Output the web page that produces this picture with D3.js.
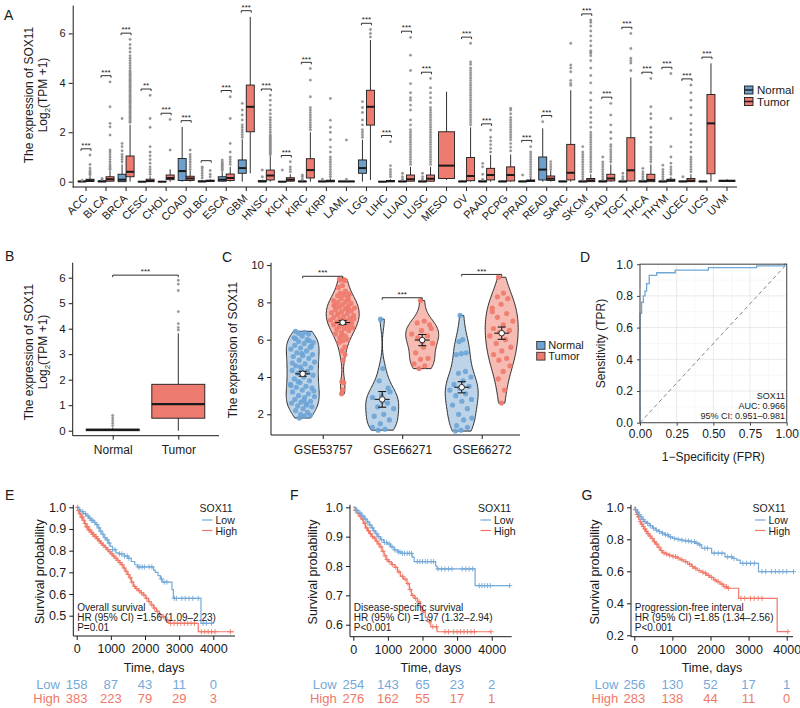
<!DOCTYPE html>
<html><head><meta charset="utf-8">
<script src="https://cdn.jsdelivr.net/npm/d3@7"></script>
<style>body{margin:0;background:#fff}svg text{font-family:"Liberation Sans",Arial,Helvetica,sans-serif;fill:#1a1a1a}</style>
</head><body><svg id="c" width="800" height="708"></svg>
<script>
// ================= DATA =================
// Panel A: TCGA cancers, box stats [lo, q1, median, q3, hi]
const cancers = ["ACC","BLCA","BRCA","CESC","CHOL","COAD","DLBC","ESCA","GBM","HNSC","KICH","KIRC","KIRP","LAML","LGG","LIHC","LUAD","LUSC","MESO","OV","PAAD","PCPG","PRAD","READ","SARC","SKCM","STAD","TGCT","THCA","THYM","UCEC","UCS","UVM"];
const normalBox = [
 [0,0,0.01,0.02,0.04],[0,0,0.01,0.03,0.06],[0,0,0.08,0.3,0.7],[0,0,0,0.01,0.02],[0,0,0,0.01,0.02],
 [0,0.05,0.43,0.94,2.22],[0,0,0.01,0.03,0.06],[0,0.02,0.08,0.2,0.4],[0,0.34,0.55,0.88,1.72],[0,0,0.01,0.04,0.08],
 [0,0,0,0.01,0.02],[0,0,0.01,0.02,0.04],[0,0,0.01,0.02,0.04],null,[0,0.34,0.55,0.88,1.7],
 [0,0,0,0.01,0.02],[0,0,0.01,0.02,0.05],[0,0,0.01,0.02,0.05],null,[0,0,0.01,0.02,0.04],
 [0,0,0.01,0.03,0.06],[0,0,0.01,0.02,0.04],[0,0,0.01,0.02,0.04],[0,0.07,0.49,1.0,2.16],[0,0,0.01,0.02,0.04],
 [0,0,0.01,0.02,0.05],[0,0,0.01,0.03,0.07],[0,0,0.01,0.02,0.05],[0,0,0.01,0.03,0.06],[0,0,0.01,0.02,0.05],
 [0,0,0.01,0.02,0.04],[0,0,0.01,0.02,0.04],null];
const tumorBox = [
 [0,0.01,0.05,0.1,0.22],[0,0.02,0.1,0.2,0.45],[0,0.2,0.4,1.04,2.3],[0,0,0.03,0.1,0.22],[0,0.08,0.15,0.27,0.5],
 [0,0.05,0.13,0.22,0.45],[0,0.01,0.03,0.06,0.1],[0,0.05,0.15,0.31,0.6],[0.34,2.02,3.03,3.91,6.67],[0,0.07,0.25,0.47,1.05],
 [0,0.02,0.08,0.16,0.3],[0,0.15,0.47,0.93,2.0],[0,0,0.02,0.06,0.14],[0,0,0.01,0.02,0.04],[0.07,2.29,3.03,3.7,5.73],
 [0,0,0.02,0.05,0.1],[0,0.02,0.1,0.27,0.6],[0,0.02,0.12,0.27,0.6],[0.07,0.13,0.65,2.02,3.64],[0,0.04,0.23,0.98,2.2],
 [0,0.07,0.27,0.54,1.08],[0,0.03,0.27,0.6,1.1],[0,0.01,0.03,0.07,0.15],[0,0.05,0.12,0.23,0.45],[0,0.07,0.36,1.51,3.7],
 [0,0,0.05,0.13,0.3],[0,0.03,0.13,0.3,0.7],[0,0.03,0.46,1.78,4.22],[0,0,0.07,0.3,0.7],[0,0.02,0.05,0.1,0.2],
 [0,0,0.04,0.13,0.3],[0,0.32,2.36,3.53,4.79],[0,0.01,0.03,0.06,0.1]];
const normalOut = [
 [0.06],[0.1,0.13],[0.8,0.9,1.0,1.1,1.25,1.42,1.55,2.56],[],[],
 [],[0.15,0.25,0.35,0.45,0.55,0.6],[0.45,0.5,0.55,0.6,0.65,0.7,0.75,0.8,0.88],[1.8,1.9,2.0,2.1,2.2,2.3,2.5,2.7,2.9,3.17],[0.2,0.47],
 [0.47],[0.1,0.2,0.27],[0.1],[],[1.8,1.9,2.0,2.1,2.3,2.5,2.8,3.0,3.24],
 [],[0.1,0.2,0.34],[0.1,0.2,0.34],[],[],
 [0.1,0.3,0.6,0.74],[],[0.27],[2.43],[],
 [0.1,0.2,0.3,0.4,0.5,0.6,0.7,0.8,0.9,1.0,1.1,1.2,1.42],[0.1,0.2,0.3,0.4,0.5,0.6,0.7,0.8,1.0],[0.1,0.2,0.34],[0.1,0.2,0.3,0.4,0.54],[0.1,0.2,0.3,0.4,0.5,0.67],
 [0.2],[],[]];
const tumorOut = [
 [0.28,0.32,0.38,0.45,0.55,0.7,1.08],
 [0.5,0.55,0.62,0.7,0.8,0.9,1.0,1.1,1.2,1.28,1.89,2.22,2.36,3.03,4.04],
 [2.4,2.45,2.5,2.55,2.6,2.65,2.7,2.75,2.8,2.85,2.9,2.95,3.0,3.05,3.1,3.15,3.2,3.25,3.3,3.35,3.4,3.45,3.5,3.55,3.6,3.65,3.7,3.75,3.8,3.85,3.9,3.95,4.0,4.05,4.1,4.15,4.2,4.25,4.3,4.35,4.4,4.45,4.5,4.6,4.7,4.8,4.9,5.0,5.1,5.25,5.4,5.55,5.76],
 [0.3,0.4,0.5,0.6,0.75,0.9,1.05,1.2,1.42,2.2,2.56,3.5],
 [1.28,2.52],
 [0.5,0.6,0.7,0.8,0.9,1.0,1.1,1.28],
 [0.2,0.3,0.45],
 [0.7,0.8,0.9,1.0,1.2,1.55,2.56,3.44],
 [],
 [1.1,1.15,1.2,1.25,1.3,1.35,1.4,1.45,1.5,1.55,1.6,1.65,1.7,1.75,1.8,1.85,1.9,2.0,2.1,2.2,2.3,2.4,2.5,2.6,2.75,2.9,3.1,3.3,3.5],
 [0.4,0.5,0.6,0.81],
 [2.1,2.2,2.3,2.4,2.5,2.6,2.7,2.8,2.9,3.0,3.44,4.11,4.58],
 [0.2,0.3,0.4,0.5,0.6,0.7,0.8,0.9,1.0,1.2,1.4,1.7,2.0,2.2,2.49,3.37],
 [0.1,1.69],
 [5.86,6.0,6.16],
 [0.2,0.3,0.4,0.5,0.65,1.62],
 [0.7,0.8,0.9,1.0,1.1,1.2,1.3,1.4,1.5,1.6,1.7,1.8,1.9,2.0,2.1,2.3,2.5,2.9,3.1,3.3,3.4,3.6,3.97,4.5,5.12,5.84],
 [0.7,0.8,0.9,1.0,1.1,1.2,1.3,1.4,1.5,1.6,1.7,1.8,1.9,2.0,2.1,2.2,2.3,2.4,2.5,2.6,2.7,2.8,2.9,3.0,3.2,3.4,3.6,3.8,4.18],
 [],
 [2.3,2.4,2.5,2.6,2.7,2.8,2.9,3.0,3.1,3.2,3.3,3.4,3.5,3.6,3.7,3.8,3.9,4.0,4.1,4.2,4.3,4.4,4.5,4.6,4.75,4.85,5.6],
 [1.2,1.35,1.5,1.65,1.8,2.09],
 [1.25,1.4,1.55,1.7,1.8,1.9,2.0,2.1,2.2,2.3,2.4,2.5,2.6,2.75,2.9,2.97],
 [0.2,0.3,0.4,0.5,0.6,0.7,0.8,0.9,1.0,1.1,1.2,1.42],
 [0.5,0.6,0.7,0.81],
 [3.9,3.98,4.1,4.45,4.6,4.72,5.6],
 [0.4,0.5,0.6,0.7,0.8,0.9,1.0,1.1,1.2,1.3,1.4,1.5,1.6,1.7,1.8,1.9,2.0,2.2,2.4,2.6,2.8,3.0,3.3,3.6,4.0,4.3,4.6,4.9,5.1,5.2,5.26,5.3,5.5,5.7,5.9,6.1,6.3,6.45,6.54],
 [0.8,0.9,1.0,1.1,1.2,1.3,1.42,1.5,1.75,2.0,2.3,2.7,3.17],
 [4.5,4.8,4.9,5.0,5.39,6.0],
 [0.8,0.9,1.0,1.1,1.2,1.3,1.4,1.6,1.8,2.0,2.2,2.56,2.75,3.03,4.18],
 [0.3,0.4,0.5,0.6,0.75,1.0,1.42,2.56,4.38],
 [0.4,0.5,0.6,0.7,0.8,0.9,1.0,1.2,1.4,1.6,1.9,2.1,2.36,2.7,3.0,3.3,3.6,3.91],
 [],
 []];
const sigA = ["***","***","***","**","***","***","","***","***","***","***","***",null,null,"***","***","***","***",null,"***","***",null,"***","***",null,"***","***","***","***","***","***","***",null];
const yTicksA = [0,2,4,6];

// Panel B: pooled Normal vs Tumor
const groupsB = ["Normal","Tumor"];
const boxB = [[0,0,0.03,0.06,0.12],[0,0.49,1.04,1.82,3.82]];
const outB = [[0.2,0.3,0.4,0.5,0.6],[3.95,4.05,4.2,4.67,5.5,5.75,5.9]];
const yTicksB = [0,1,2,3,4,5,6];

// Panel C: GEO datasets (violin + points)
const datasetsC = ["GSE53757","GSE66271","GSE66272"];
const cNormal = [
 [6.45,6.4,6.35,6.3,6.2,6.1,6.0,5.9,5.85,5.8,5.7,5.6,5.55,5.5,5.4,5.3,5.2,5.15,5.1,5.0,4.9,4.8,4.7,4.6,4.5,4.4,4.35,4.3,4.2,4.1,4.0,3.9,3.8,3.7,3.6,3.5,3.45,3.4,3.3,3.2,3.1,3.0,2.95,2.9,2.8,2.7,2.65,2.6,2.5,2.45,2.4,2.3,2.2,2.1,2.0,1.95,1.9,1.8,5.65,5.25,4.75,4.25,3.75,3.25,2.75,6.05,5.95,4.55,3.55,2.55],
 [7.1,4.45,3.8,3.4,3.0,2.9,2.6,2.4,2.3,2.0,1.9,1.7,1.5,1.3,1.2,1.15,3.2,2.7],
 [7.3,6.0,5.9,5.3,5.25,5.2,4.3,4.2,4.0,3.8,3.6,3.5,3.4,3.3,3.1,3.0,2.8,2.7,2.5,2.3,2.0,1.8,1.7,1.4,1.3,1.15,1.1]];
const cTumor = [
 [9.25,9.22,9.2,9.18,8.9,8.8,8.6,8.5,8.45,8.4,8.35,8.3,8.2,8.1,8.05,8.0,7.95,7.9,7.85,7.8,7.75,7.7,7.65,7.6,7.55,7.5,7.45,7.4,7.35,7.3,7.25,7.2,7.15,7.1,7.05,7.0,6.95,6.9,6.85,6.8,6.75,6.7,6.65,6.6,6.55,6.5,6.4,6.3,6.2,6.1,6.0,5.95,5.85,5.6,5.4,5.2,4.9,3.75,3.7,3.3,3.1,7.62,7.38,7.12,6.88,7.78,8.15,6.25],
 [8.1,7.0,6.9,6.8,6.5,6.3,6.2,6.1,5.8,5.6,5.3,5.0,4.95,4.7,4.6,4.45,6.6,5.9],
 [9.35,8.5,8.3,8.2,7.9,7.5,7.4,7.2,7.0,6.8,6.6,6.5,6.4,6.2,6.0,5.8,5.6,5.4,5.2,5.0,4.9,4.6,4.3,3.9,3.3,2.6,7.7]];
const cMean = [[4.17,6.92],[2.8,5.98],[3.45,6.35]];
const cSE = [[0.13,0.1],[0.42,0.3],[0.3,0.33]];
const yTicksC = [2,4,6,8,10];

// Panel D: ROC curve
const rocFPR = [0,0,0.011,0.023,0.034,0.045,0.063,0.114,0.24,0.466,0.795,0.985,1];
const rocTPR = [0,0.69,0.76,0.80,0.83,0.877,0.93,0.946,0.963,0.978,0.99,1.0,1.0];
const rocText = ["SOX11","AUC: 0.966","95% CI: 0.951–0.981"];
const ticksD_x = [0,0.25,0.5,0.75,1];
const ticksD_y = [0,0.2,0.4,0.6,0.8,1];

// Panels E-G: Kaplan-Meier curves [time, survival]
const eLow = [[0,1],[60,0.99],[120,0.98],[200,0.97],[280,0.96],[350,0.95],[420,0.94],[500,0.93],[560,0.92],[620,0.905],[680,0.89],[740,0.875],[800,0.86],[860,0.85],[920,0.835],[980,0.82],[1050,0.805],[1150,0.79],[1250,0.785],[1400,0.775],[1500,0.765],[1600,0.75],[1700,0.735],[1780,0.725],[2250,0.71],[2300,0.70],[2380,0.685],[2450,0.67],[2500,0.655],[2790,0.62],[2830,0.58],[3640,0.465],[3990,0.465]];
const eHigh = [[0,1],[40,0.985],[80,0.97],[130,0.955],[180,0.94],[230,0.925],[280,0.91],[340,0.895],[400,0.885],[460,0.875],[520,0.865],[580,0.855],[640,0.845],[700,0.835],[760,0.825],[820,0.815],[880,0.805],[940,0.795],[1000,0.785],[1060,0.775],[1120,0.765],[1180,0.755],[1240,0.745],[1300,0.735],[1360,0.72],[1420,0.705],[1480,0.69],[1540,0.675],[1600,0.655],[1660,0.635],[1720,0.625],[1800,0.615],[1880,0.605],[1950,0.595],[2020,0.58],[2100,0.565],[2180,0.55],[2250,0.535],[2330,0.52],[2420,0.505],[2500,0.495],[2600,0.48],[2700,0.465],[3560,0.426],[4600,0.426]];
const eLowCens = [180,260,330,380,430,470,530,590,650,700,770,830,900,950,1050,1120,1250,1320,1400,1480,1530,1800,1850,1920,1990,2120,2200,2480,2560,2640,2860,2920,3080,3180,3290,3400,3560,3700,3800,3950];
const eHighCens = [30,60,100,140,170,210,250,290,320,360,390,430,470,500,540,570,610,660,720,780,850,910,970,1030,1090,1150,1210,1270,1330,1390,1450,1510,1570,1620,1700,1760,1830,1900,1970,2050,2120,2200,2280,2360,2430,2550,2650,2750,2850,2950,3050,3150,3250,3350,3450,3650,3750,3850,3950,4050,4500];
const fLow = [[0,1],[80,0.99],[160,0.98],[240,0.97],[320,0.96],[400,0.95],[460,0.94],[520,0.93],[580,0.92],[640,0.91],[700,0.9],[780,0.89],[880,0.88],[980,0.875],[1080,0.865],[1180,0.855],[1280,0.848],[1380,0.843],[1700,0.83],[1760,0.815],[2380,0.8],[2420,0.79],[3520,0.733],[4540,0.733]];
const fHigh = [[0,1],[50,0.99],[110,0.98],[170,0.97],[230,0.96],[290,0.945],[350,0.93],[410,0.92],[470,0.91],[530,0.9],[590,0.895],[650,0.885],[710,0.875],[770,0.865],[830,0.85],[890,0.835],[950,0.822],[1010,0.815],[1100,0.805],[1200,0.795],[1280,0.78],[1360,0.765],[1450,0.755],[1550,0.74],[1620,0.72],[1680,0.70],[1760,0.69],[1850,0.678],[1930,0.66],[2000,0.644],[2080,0.625],[2140,0.61],[2240,0.593],[2420,0.576],[3980,0.576]];
const fLowCens = [100,200,280,350,420,480,550,600,680,740,820,900,960,1040,1120,1200,1300,1350,1420,1480,1560,1620,1680,1850,1920,2000,2080,2150,2250,2320,2450,2550,2650,2750,2850,3150,3250,3350,3450,3640,3720,3800,3880,3960,4520];
const fHighCens = [60,140,200,270,330,390,440,500,560,620,680,740,800,860,920,980,1040,1130,1230,1320,1420,1500,1580,1640,1720,1800,1900,2020,2200,2300,2400,2650,2750,2900,3000,3100,3200,3300,3400,3500,3980];
const gLow = [[0,1],[30,0.985],[70,0.97],[110,0.955],[150,0.94],[200,0.925],[260,0.91],[320,0.9],[400,0.885],[480,0.87],[560,0.858],[640,0.848],[720,0.838],[800,0.828],[900,0.815],[1000,0.806],[1100,0.8],[1200,0.795],[1300,0.79],[1450,0.785],[1600,0.775],[1700,0.765],[1770,0.744],[2030,0.713],[2380,0.69],[2580,0.68],[2690,0.67],[2780,0.65],[3260,0.598],[4190,0.598]];
const gHigh = [[0,1],[20,0.985],[40,0.97],[60,0.955],[90,0.94],[120,0.925],[150,0.91],[180,0.895],[210,0.88],[250,0.865],[290,0.85],[340,0.835],[390,0.82],[440,0.805],[500,0.785],[560,0.77],[620,0.75],[680,0.73],[740,0.715],[820,0.708],[900,0.7],[1000,0.692],[1100,0.683],[1200,0.672],[1300,0.66],[1400,0.645],[1500,0.63],[1560,0.62],[1650,0.605],[1750,0.595],[1820,0.588],[1900,0.575],[1980,0.562],[2080,0.546],[2160,0.535],[2250,0.52],[2340,0.504],[2450,0.494],[2740,0.431],[3750,0.223],[4050,0.223]];
const gLowCens = [40,90,130,180,230,280,350,420,500,580,660,740,820,880,950,1050,1150,1250,1350,1420,1500,1580,1650,1720,1850,1920,2100,2200,2300,2450,2550,2620,2850,2950,3050,3150,3350,3450,3600,3700,3800,3900,4000,4180];
const gHighCens = [30,80,110,160,200,240,280,320,360,420,470,530,590,650,710,780,850,930,1020,1080,1150,1250,1350,1450,1530,1600,1700,1800,1870,1950,2030,2120,2200,2300,2380,2420,2470,2800,2900,3050,3150,3250,3350,4030];
const kmTimeTicks = [0,1000,2000,3000,4000];
const eYTicks = [0.5,0.6,0.7,0.8,0.9,1.0];
const fYTicks = [0.6,0.7,0.8,0.9,1.0];
const gYTicks = [0.2,0.4,0.6,0.8,1.0];
const eRiskLow = [158,87,43,11,0], eRiskHigh = [383,223,79,29,3];
const fRiskLow = [254,143,65,23,2], fRiskHigh = [276,162,55,17,1];
const gRiskLow = [256,130,52,17,1], gRiskHigh = [283,138,44,11,0];
const eNote = ["Overall survival","HR (95% CI) =1.56 (1.09–2.23)","P=0.01"];
const fNote = ["Disease-specific survival","HR (95% CI) =1.97 (1.32–2.94)","P<0.001"];
const gNote = ["Progression-free interval","HR (95% CI) =1.85 (1.34–2.56)","P<0.001"];

// ================= DRAWING =================
const svg = d3.select("#c");
const BLUE = "#6c9fcb", RED = "#ee7b6f";
const KMBLUE = "#74a9d8", KMRED = "#f07868";
const INK = "#1a1a1a";

function label(x, y, t, size, anchor, color) {
  return svg.append("text").attr("x", x).attr("y", y).attr("font-size", size)
    .attr("text-anchor", anchor || "start").style("fill", color || INK).text(t);
}
function vline(g, x, y1, y2, w, c) { g.append("line").attr("x1",x).attr("x2",x).attr("y1",y1).attr("y2",y2).attr("stroke",c||INK).attr("stroke-width",w||1); }
function hline(g, y, x1, x2, w, c) { g.append("line").attr("y1",y).attr("y2",y).attr("x1",x1).attr("x2",x2).attr("stroke",c||INK).attr("stroke-width",w||1); }

function drawBox(g, ys, xl, xr, b, fill, out, medW) {
  const [lo,q1,med,q3,hi] = b, cx = (xl+xr)/2;
  vline(g, cx, ys(hi), ys(q3), 0.9);
  vline(g, cx, ys(q1), ys(lo), 0.9);
  g.append("rect").attr("x", xl).attr("y", ys(q3)).attr("width", xr-xl)
    .attr("height", Math.max(0.01, ys(q1)-ys(q3))).attr("fill", fill).attr("stroke", INK).attr("stroke-width", 0.9);
  hline(g, ys(med), xl, xr, medW || 2);
  (out||[]).forEach(v => g.append("circle").attr("cx", cx).attr("cy", ys(v)).attr("r", 1.2)
    .attr("fill", "#9a9a9a").attr("stroke", "#777").attr("stroke-width", 0.3));
}
function bracket(g, x1, x2, y, txt, fs) {
  g.append("path").attr("d", `M${x1},${y+2}V${y}H${x2}V${y+2}`).attr("fill","none").attr("stroke",INK).attr("stroke-width",0.9);
  if (txt) g.append("text").attr("x",(x1+x2)/2).attr("y",y-0.8).attr("text-anchor","middle").attr("font-size",fs||8).text(txt);
}
function yTitle2(x1, x2, cy, size) {
  svg.append("text").attr("transform",`translate(${x1},${cy}) rotate(-90)`).attr("text-anchor","middle").attr("font-size",size).text("The expression of SOX11");
  const t = svg.append("text").attr("transform",`translate(${x2},${cy}) rotate(-90)`).attr("text-anchor","middle").attr("font-size",size);
  t.append("tspan").text("Log");
  t.append("tspan").attr("font-size", size*0.65).attr("dy", 3).text("2");
  t.append("tspan").attr("dy", -3).text("(TPM +1)");
}
function styleAxis(g, fs) {
  g.selectAll("text").attr("font-size", fs).style("fill", INK);
  g.selectAll("line").attr("stroke", INK);
  g.selectAll(".domain").attr("stroke", INK);
}

// ---------- Panel A ----------
label(4, 20, "A", 14);
const gA = svg.append("g");
const xA = d3.scaleBand().domain(cancers).range([76, 737]);
const yA = d3.scaleLinear().domain([-0.215, 7.15]).range([187, 5]);
const axA = gA.append("g").attr("transform","translate(72.7,0)")
  .call(d3.axisLeft(yA).tickValues(yTicksA).tickSize(4).tickSizeOuter(0).tickPadding(3).tickFormat(d3.format("d")));
styleAxis(axA, 11);
const axAx = gA.append("g").attr("transform","translate(0,187)")
  .call(d3.axisBottom(xA).tickSize(4).tickSizeOuter(0));
axAx.select(".domain").remove();
hline(gA, 187, 72.7, 737, 1);
axAx.selectAll("line").attr("stroke", INK);
axAx.selectAll("text").attr("font-size", 11).style("fill", INK).attr("text-anchor","end")
  .attr("y", 0).attr("dy", 0).attr("transform","translate(2,12) rotate(-45)");
yTitle2(33, 47, 95, 12);
cancers.forEach((c, i) => {
  const cx = xA(c) + xA.bandwidth()/2;
  const nb = normalBox[i];
  if (nb) drawBox(gA, yA, cx-8, cx, nb, BLUE, normalOut[i]);
  if (nb) drawBox(gA, yA, cx, cx+8, tumorBox[i], RED, tumorOut[i]);
  else drawBox(gA, yA, cx-8, cx+8, tumorBox[i], RED, tumorOut[i]);
  if (sigA[i] !== null) {
    const top = d3.max([...(nb||[]), ...normalOut[i], ...tumorBox[i], ...tumorOut[i]]) + 0.25;
    bracket(gA, cx-5, cx+5, yA(top), sigA[i], 8);
  }
});
// legend A
[["Normal", BLUE, 86], ["Tumor", RED, 97.5]].forEach(([t, col, y]) => {
  svg.append("rect").attr("x",744.5).attr("y",y).attr("width",8.5).attr("height",8).attr("fill",col).attr("stroke",INK).attr("stroke-width",0.9);
  hline(svg, y+4, 744.5, 753, 1.4);
  label(757, y+8, t, 11.5);
});

// ---------- Panel B ----------
label(5, 261, "B", 14);
const gB = svg.append("g");
const xB = d3.scalePoint().domain(groupsB).range([112.7, 178.3]);
const yB = d3.scaleLinear().domain([0, 6]).range([430.7, 277.7]);
const axB = gB.append("g").attr("transform","translate(72.7,0)")
  .call(d3.axisLeft(yB).tickValues(yTicksB).tickSize(4).tickSizeOuter(0).tickPadding(3).tickFormat(d3.format("d")));
axB.select(".domain").remove();
vline(gB, 72.7, 262.7, 435.7, 1);
styleAxis(axB, 11.5);
const axBx = gB.append("g").attr("transform","translate(0,435.7)").call(d3.axisBottom(xB).tickSize(4).tickSizeOuter(0).tickPadding(6));
axBx.select(".domain").remove();
hline(gB, 435.7, 72.7, 219, 1);
styleAxis(axBx, 12);
yTitle2(33, 47, 352, 12);
groupsB.forEach((gname, i) => {
  const cx = xB(gname);
  drawBox(gB, yB, cx-26.5, cx+26.5, boxB[i], i===0 ? BLUE : RED, outB[i], 2.2);
});
bracket(gB, xB("Normal"), xB("Tumor"), yB(d3.max(outB[1]) + 0.2), "***", 8);

// ---------- Panel C ----------
label(222, 261.5, "C", 14);
const gC = svg.append("g");
const xC = d3.scalePoint().domain(datasetsC).range([322.7, 481.7]);
const yC = d3.scaleLinear().domain([2, 10]).range([414.3, 265.1]);
const axC = gC.append("g").attr("transform","translate(271,0)")
  .call(d3.axisLeft(yC).tickValues(yTicksC).tickSize(4).tickSizeOuter(0).tickPadding(3));
axC.select(".domain").remove();
vline(gC, 271, 262.7, 435, 1);
styleAxis(axC, 11.5);
const axCx = gC.append("g").attr("transform","translate(0,435)").call(d3.axisBottom(xC).tickSize(4).tickSizeOuter(0).tickPadding(6));
axCx.select(".domain").remove();
hline(gC, 435, 271, 520, 1);
styleAxis(axCx, 12);
svg.append("text").attr("transform","translate(237,350) rotate(-90)").attr("text-anchor","middle").attr("font-size",12).text("The expression of SOX11");

function kde(vals) {
  const s = vals.slice().sort(d3.ascending);
  const sd = d3.deviation(s), iqr = d3.quantile(s,0.75) - d3.quantile(s,0.25);
  const h = 0.9 * Math.min(sd, iqr/1.34) * Math.pow(s.length, -0.2);
  const mn = s[0], mx = s[s.length-1];
  return d3.range(81).map(k => {
    const v = mn + (mx-mn)*k/80;
    return {v, d: d3.mean(s, x => Math.exp(-0.5*((v-x)/h)**2))};
  });
}
function violin(cx, vals, fill, ptCol) {
  const dens = kde(vals), dmax = d3.max(dens, d => d.d);
  const wS = d3.scaleLinear().domain([0, dmax]).range([0, 16.5]);
  const area = d3.area().y(d => yC(d.v)).x0(d => cx - wS(d.d)).x1(d => cx + wS(d.d)).curve(d3.curveBasis);
  gC.append("path").attr("d", area(dens)).attr("fill", fill).attr("stroke", INK).attr("stroke-width", 0.9);
  const wAt = v => { const b = d3.bisector(d => d.v).left(dens, v); const d = dens[Math.min(b, dens.length-1)]; return wS(d.d); };
  vals.forEach((v, i) => {
    const u = ((i * 0.6180339887) % 1) * 2 - 1;
    gC.append("circle").attr("cx", cx + u * wAt(v) * 0.78).attr("cy", yC(v)).attr("r", 2.6)
      .attr("fill", ptCol).attr("fill-opacity", 0.9);
  });
}
function meanSE(cx, m, se) {
  vline(gC, cx, yC(m+se), yC(m-se), 1.1);
  hline(gC, yC(m+se), cx-4, cx+4, 1.1);
  hline(gC, yC(m-se), cx-4, cx+4, 1.1);
  hline(gC, yC(m), cx-7.5, cx+7.5, 1.1);
  gC.append("circle").attr("cx", cx).attr("cy", yC(m)).attr("r", 2.8).attr("fill", "#fff").attr("stroke", INK).attr("stroke-width", 0.9);
}
datasetsC.forEach((ds, i) => {
  const cx = xC(ds);
  violin(cx-20, cNormal[i], "#bdd3e8", "#6da4d6");
  violin(cx+20, cTumor[i], "#f6bbb3", "#f07a6c");
  meanSE(cx-20, cMean[i][0], cSE[i][0]);
  meanSE(cx+20, cMean[i][1], cSE[i][1]);
  const top = d3.max([...cNormal[i], ...cTumor[i]]) + 0.15;
  bracket(gC, cx-20, cx+20, yC(top), "***", 8);
});
[["Normal", "#6da4d6", 341.5], ["Tumor", "#f07a6c", 352.3]].forEach(([t, col, y]) => {
  svg.append("rect").attr("x",536.7).attr("y",y).attr("width",8.3).attr("height",7.8).attr("fill",col).attr("stroke","#333").attr("stroke-width",0.9);
  label(548.3, y+7.5, t, 11);
});

// ---------- Panel D ----------
label(580, 262, "D", 14);
const gD = svg.append("g");
const xD = d3.scaleLinear().domain([0,1]).range([640, 786.7]);
const yD = d3.scaleLinear().domain([0,1]).range([422.7, 264.2]);
d3.range(0.125, 1, 0.25).forEach(v => vline(gD, xD(v), yD(0), yD(1), 0.6, "#f2f2f2"));
d3.range(0.1, 1, 0.2).forEach(v => hline(gD, yD(v), xD(0), xD(1), 0.6, "#f2f2f2"));
ticksD_x.forEach(v => vline(gD, xD(v), yD(0), yD(1), 0.9, "#e6e6e6"));
ticksD_y.forEach(v => hline(gD, yD(v), xD(0), xD(1), 0.9, "#e6e6e6"));
gD.append("line").attr("x1",xD(0)).attr("y1",yD(0)).attr("x2",xD(1)).attr("y2",yD(1))
  .attr("stroke","#777").attr("stroke-width",0.9).attr("stroke-dasharray","4,3");
gD.append("path").datum(rocFPR.map((f,i)=>[f, rocTPR[i]]))
  .attr("d", d3.line().x(d=>xD(d[0])).y(d=>yD(d[1])).curve(d3.curveStepAfter))
  .attr("fill","none").attr("stroke","#6fa7d6").attr("stroke-width",1.3);
gD.append("rect").attr("x",xD(0)).attr("y",yD(1)).attr("width",xD(1)-xD(0)).attr("height",yD(0)-yD(1))
  .attr("fill","none").attr("stroke","#555").attr("stroke-width",1.1);
const axDx = gD.append("g").attr("transform",`translate(0,${yD(0)})`)
  .call(d3.axisBottom(xD).tickValues(ticksD_x).tickSize(3).tickSizeOuter(0).tickPadding(4).tickFormat(d3.format(".2f")));
axDx.select(".domain").remove();
styleAxis(axDx, 12);
const axDy = gD.append("g").attr("transform",`translate(${xD(0)},0)`)
  .call(d3.axisLeft(yD).tickValues(ticksD_y).tickSize(3).tickSizeOuter(0).tickPadding(4).tickFormat(d3.format(".1f")));
axDy.select(".domain").remove();
styleAxis(axDy, 12);
axDx.selectAll("line").attr("stroke","#444"); axDy.selectAll("line").attr("stroke","#444");
label(713.3, 461, "1−Specificity (FPR)", 12, "middle");
svg.append("text").attr("transform","translate(605,343.5) rotate(-90)").attr("text-anchor","middle").attr("font-size",12).text("Sensitivity (TPR)");
rocText.forEach((t, i) => label(785, 398.5 + i*10.2, t, 9, "end"));

// ---------- Panels E, F, G ----------
function kmPanel(o) {
  const g = svg.append("g");
  label(o.letterX, 500, o.letter, 14);
  const xs = d3.scaleLinear().domain([0,4000]).range(o.xr);
  const ys = d3.scaleLinear().domain(o.yd).range(o.yr);
  const base = o.base;
  vline(g, o.ax, ys(1.0)-2.5, base, 1);
  hline(g, base, o.ax, o.xEnd, 1);
  const ayy = g.append("g").attr("transform",`translate(${o.ax},0)`)
    .call(d3.axisLeft(ys).tickValues(o.yTicks).tickSize(4).tickSizeOuter(0).tickPadding(3).tickFormat(d3.format(".1f")));
  ayy.select(".domain").remove(); styleAxis(ayy, 12.5);
  const axx = g.append("g").attr("transform",`translate(0,${base})`)
    .call(d3.axisBottom(xs).tickValues(kmTimeTicks).tickSize(4).tickSizeOuter(0).tickPadding(4).tickFormat(d3.format("d")));
  axx.select(".domain").remove(); styleAxis(axx, 12.5);
  const lineGen = d3.line().x(d=>xs(d[0])).y(d=>ys(d[1])).curve(d3.curveStepAfter);
  const survAt = (curve, t) => { let s = 1; curve.forEach(p => { if (p[0] <= t) s = p[1]; }); return s; };
  [[o.high, o.highC, KMRED], [o.low, o.lowC, KMBLUE]].forEach(([curve, cens, col]) => {
    g.append("path").attr("d", lineGen(curve)).attr("fill","none").attr("stroke",col).attr("stroke-width",1.2);
    cens.forEach(t => {
      const x = xs(t), y = ys(survAt(curve, t));
      g.append("path").attr("d",`M${x-2.6},${y}H${x+2.6}M${x},${y-2.6}V${y+2.6}`).attr("stroke",col).attr("stroke-width",0.9);
    });
  });
  // legend
  label(o.legX, 512, "SOX11", 10.5);
  hline(g, 520, o.legX+2.5, o.legX+13, 1.2, KMBLUE);
  hline(g, 530.5, o.legX+2.5, o.legX+13, 1.2, KMRED);
  label(o.legX+16, 523.5, "Low", 10.5);
  label(o.legX+16, 534.5, "High", 10.5);
  // note
  o.note.forEach((t, i) => label(xs(0)+0.5, 611 + i*10, t, 10));
  // titles
  label((o.ax + o.xEnd)/2, 672, "Time, days", 12.5, "middle");
  svg.append("text").attr("transform",`translate(${o.ytX},${(ys(1.0)+base)/2}) rotate(-90)`).attr("text-anchor","middle").attr("font-size",12.5).text("Survival probability");
  // risk table
  label(o.riskX, 688.5, "Low", 13, "end", KMBLUE);
  label(o.riskX, 702.5, "High", 13, "end", KMRED);
  kmTimeTicks.forEach((t, i) => {
    label(xs(t), 688.5, o.rLow[i], 13, "middle", KMBLUE);
    label(xs(t), 702.5, o.rHigh[i], 13, "middle", KMRED);
  });
}
kmPanel({letter:"E", letterX:5, xr:[76.7,213.3], yd:[0.5,1.0], yr:[615.7,507.3], base:636, ax:73.3, xEnd:235,
  yTicks:eYTicks, low:eLow, high:eHigh, lowC:eLowCens, highC:eHighCens, legX:199.5, note:eNote, ytX:44,
  riskX:60, rLow:eRiskLow, rHigh:eRiskHigh});
kmPanel({letter:"F", letterX:290, xr:[353.3,491.7], yd:[0.6,1.0], yr:[624.7,507.3], base:636.7, ax:350, xEnd:511.7,
  yTicks:fYTicks, low:fLow, high:fHigh, lowC:fLowCens, highC:fHighCens, legX:478, note:fNote, ytX:317,
  riskX:336.7, rLow:fRiskLow, rHigh:fRiskHigh});
kmPanel({letter:"G", letterX:581.5, xr:[634.3,786.7], yd:[0.2,1.0], yr:[635.3,507.3], base:636.7, ax:631, xEnd:793,
  yTicks:gYTicks, low:gLow, high:gHigh, lowC:gLowCens, highC:gHighCens, legX:752.5, note:gNote, ytX:599,
  riskX:618.3, rLow:gRiskLow, rHigh:gRiskHigh});
</script></body></html>
